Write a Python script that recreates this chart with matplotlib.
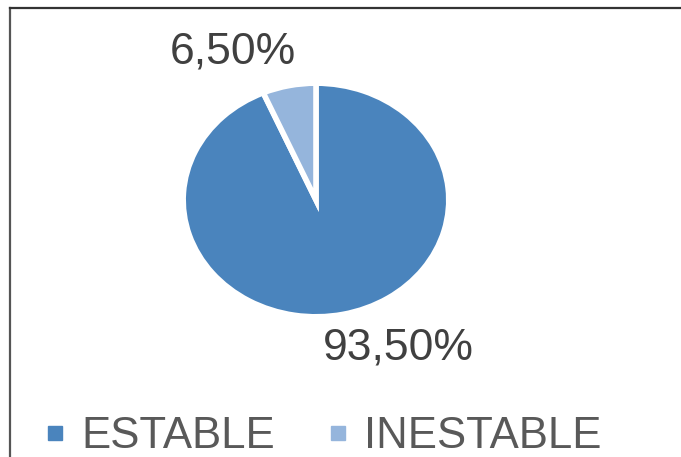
import matplotlib
matplotlib.use("Agg")
import matplotlib.pyplot as plt
from matplotlib.lines import Line2D

# data
categories = ["ESTABLE", "INESTABLE"]
values = [93.5, 6.5]
colors = ["#4A84BD", "#95B5DC"]

plt.rcParams['font.family'] = ['Liberation Sans', 'DejaVu Sans']

fig = plt.figure(figsize=(6.81, 4.57), dpi=100)

# pie axes, stretched horizontally like the original
ax = fig.add_axes([0.269, 0.3068, 0.390, 0.5112])
wedges, _ = ax.pie(values, colors=colors, startangle=90, counterclock=False,
                   wedgeprops=dict(edgecolor="white", linewidth=4, joinstyle="miter"))
ax.set_aspect("auto")
ax.set_xlim(-1, 1)
ax.set_ylim(-1, 1)

# percentage labels
label_pos = [(0.617, -1.267), (-0.625, 1.267)]
for v, (x, y) in zip(values, label_pos):
    ax.text(x, y, f"{v:.2f}%".replace(".", ","), ha="center", va="center",
            fontsize=32, color="#404040", clip_on=False)

# legend
handles = [Line2D([], [], marker="s", linestyle="none", markersize=10.4,
                  markerfacecolor=c, markeredgecolor=c) for c in colors]
fig.legend(handles, categories, loc="center left", bbox_to_anchor=(46.5 / 681, 20 / 457),
           ncol=2, frameon=False, fontsize=31.5, labelcolor="#595959",
           handlelength=0.4, handletextpad=0.4, columnspacing=1.24, borderpad=0,
           borderaxespad=0)

# frame lines (top and left only, picture is cropped)
fig.add_artist(Line2D([9.5 / 681, 9.5 / 681], [0, 1 - 7.5 / 457], transform=fig.transFigure,
                      color="#555555", linewidth=1.6))
fig.add_artist(Line2D([9.5 / 681, 1], [1 - 7.5 / 457, 1 - 7.5 / 457], transform=fig.transFigure,
                      color="#333333", linewidth=1.6))

fig.savefig("out.png", dpi=100, facecolor="white")
